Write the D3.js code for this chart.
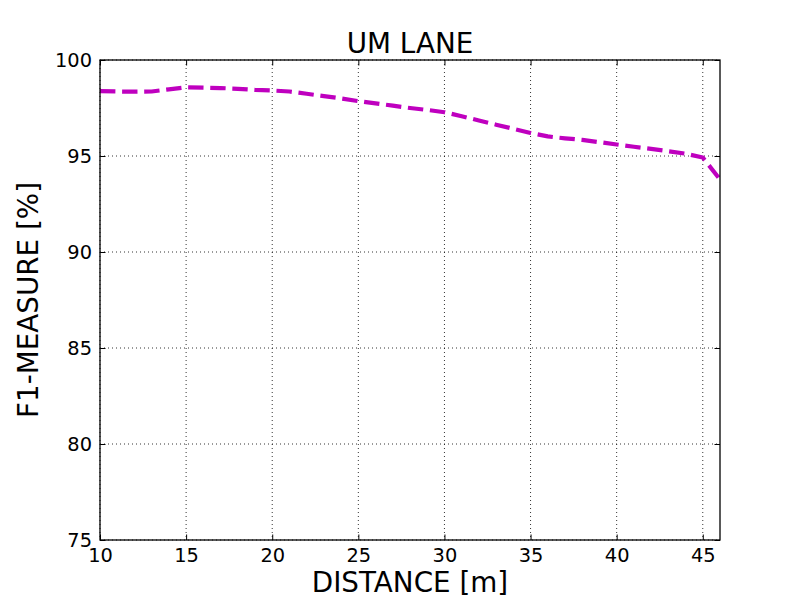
<!DOCTYPE html>
<html>
<head>
<meta charset="utf-8">
<script src="https://cdn.jsdelivr.net/npm/d3@7"></script>
<style>
  body { margin: 0; background: #fff; }
  svg { display: block; }
  text { font-family: "DejaVu Sans", sans-serif; fill: #000; }
</style>
</head>
<body>
<svg id="chart" width="800" height="600"></svg>
<script>
const distance = [10, 11, 12, 13, 14, 15, 16, 17, 18, 19, 20, 21, 22, 23, 24, 25, 26, 27, 28, 29, 30, 31, 32, 33, 34, 35, 36, 37, 38, 39, 40, 41, 42, 43, 44, 45, 46];
const f1 = [98.38, 98.36, 98.35, 98.36, 98.47, 98.58, 98.56, 98.54, 98.50, 98.44, 98.41, 98.36, 98.24, 98.12, 98.00, 97.86, 97.74, 97.62, 97.50, 97.40, 97.28, 97.07, 96.85, 96.63, 96.42, 96.20, 96.02, 95.92, 95.84, 95.72, 95.60, 95.48, 95.37, 95.25, 95.12, 94.92, 93.78];
const xTicks = [10, 15, 20, 25, 30, 35, 40, 45];
const yTicks = [75, 80, 85, 90, 95, 100];
const title = "UM LANE";
const xLabel = "DISTANCE [m]";
const yLabel = "F1-MEASURE [%]";

const svg = d3.select("#chart");
const m = {left: 100, right: 80, top: 60, bottom: 60};
const W = 800 - m.left - m.right, H = 600 - m.top - m.bottom;
const g = svg.append("g").attr("transform", `translate(${m.left},${m.top})`);

const x = d3.scaleLinear().domain([10, 46]).range([0, W]);
const y = d3.scaleLinear().domain([75, 100]).range([H, 0]);

// grid
g.append("g").selectAll("line").data(xTicks).join("line")
  .attr("x1", d => x(d)).attr("x2", d => x(d)).attr("y1", 0).attr("y2", H)
  .attr("stroke", "#000").attr("stroke-width", 0.8).attr("stroke-dasharray", "1,3");
g.append("g").selectAll("line").data(yTicks).join("line")
  .attr("y1", d => y(d)).attr("y2", d => y(d)).attr("x1", 0).attr("x2", W)
  .attr("stroke", "#000").attr("stroke-width", 0.8).attr("stroke-dasharray", "1,3");

// line
const line = d3.line().x((d, i) => x(distance[i])).y(d => y(d));
g.append("path").datum(f1)
  .attr("d", line)
  .attr("fill", "none")
  .attr("stroke", "#bf00bf")
  .attr("stroke-width", 4.2)
  .attr("stroke-dasharray", "15.4,6.7")
  .attr("stroke-linejoin", "round");

// axes
function styleAxis(sel) {
  sel.select(".domain").remove();
  sel.selectAll(".tick line").attr("stroke", "#000").attr("stroke-width", 1);
  sel.selectAll(".tick text").attr("font-size", "19.4px").attr("font-family", "DejaVu Sans");
}
const xb = g.append("g").attr("transform", `translate(0,${H})`)
  .call(d3.axisBottom(x).tickValues(xTicks).tickSizeInner(-5.5).tickSizeOuter(0).tickPadding(8).tickFormat(d3.format("d")));
styleAxis(xb);
const xt = g.append("g")
  .call(d3.axisTop(x).tickValues(xTicks).tickSizeInner(-5.5).tickSizeOuter(0).tickFormat(""));
styleAxis(xt);
const yl = g.append("g")
  .call(d3.axisLeft(y).tickValues(yTicks).tickSizeInner(-5.5).tickSizeOuter(0).tickPadding(8).tickFormat(d3.format("d")));
styleAxis(yl);
const yr = g.append("g").attr("transform", `translate(${W},0)`)
  .call(d3.axisRight(y).tickValues(yTicks).tickSizeInner(-5.5).tickSizeOuter(0).tickFormat(""));
styleAxis(yr);

// frame
g.append("rect").attr("x", 0).attr("y", 0).attr("width", W).attr("height", H)
  .attr("fill", "none").attr("stroke", "#000").attr("stroke-width", 1.3);

// labels
svg.append("text").attr("x", m.left + W / 2).attr("y", 53)
  .attr("text-anchor", "middle").attr("font-size", "27.8px").text(title);
svg.append("text").attr("x", m.left + W / 2).attr("y", 592)
  .attr("text-anchor", "middle").attr("font-size", "27.8px").text(xLabel);
svg.append("text").attr("transform", `translate(38,${m.top + H / 2}) rotate(-90)`)
  .attr("text-anchor", "middle").attr("font-size", "27.8px").text(yLabel);
</script>
</body>
</html>
